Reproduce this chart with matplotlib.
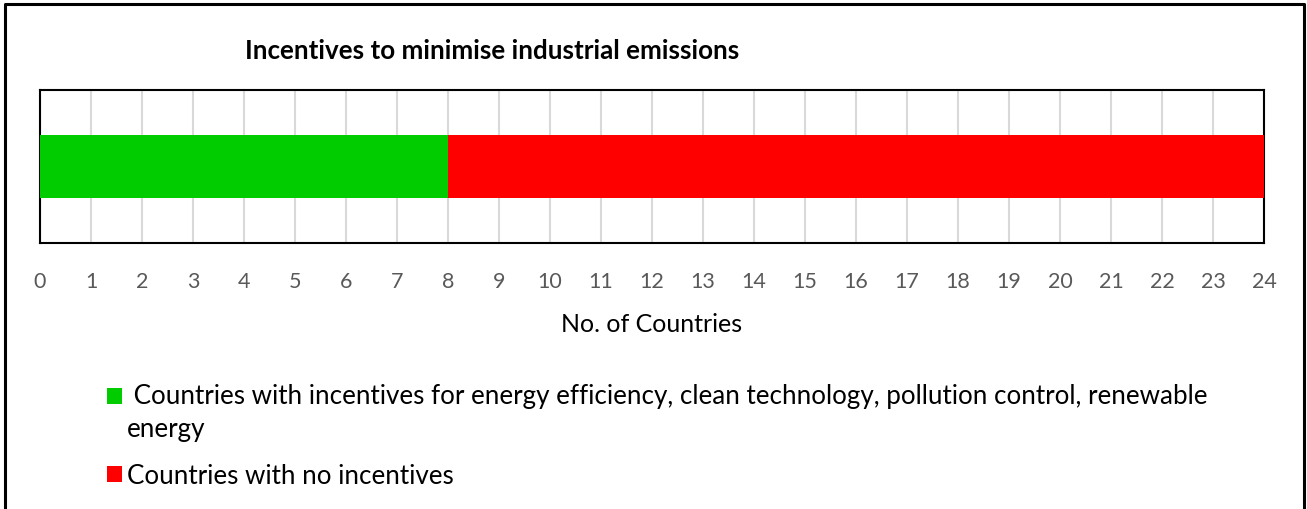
import matplotlib.pyplot as plt
from matplotlib.lines import Line2D
from matplotlib.patches import Rectangle
from matplotlib.legend_handler import HandlerPatch

# Data
categories = ['Industrial emissions']
with_incentives = [8]
no_incentives = [16]
legend_labels = [
    ' Countries with incentives for energy efficiency, clean technology, pollution control, renewable\nenergy',
    'Countries with no incentives',
]
colors = ['#00CC00', '#FF0000']
x_ticks = list(range(0, 25))

plt.rcParams['font.family'] = ['Lato', 'DejaVu Sans']

fig = plt.figure(figsize=(13.07, 5.10), dpi=100)
ax = fig.add_axes([40 / 1307, 1 - 244 / 510, 1224 / 1307, 153 / 510])

b1 = ax.barh(categories, with_incentives, height=0.41, color=colors[0], zorder=3)
b2 = ax.barh(categories, no_incentives, left=with_incentives, height=0.41, color=colors[1], zorder=3)

ax.set_xlim(0, 24)
ax.set_ylim(-0.5, 0.5)
ax.set_xticks(x_ticks)
ax.set_yticks([])
ax.tick_params(axis='x', length=0, pad=20, labelsize=15.5, labelcolor='#595959')
ax.grid(axis='x', color='#D9D9D9', linewidth=1.5, zorder=0)
for s in ax.spines.values():
    s.set_color('black')
    s.set_linewidth(1.5)
ax.set_xlabel('No. of Countries', fontsize=18, color='black', labelpad=15)

fig.text(492 / 1307, 1 - 51 / 510, 'Incentives to minimise industrial emissions',
         ha='center', va='center', fontsize=18.7, fontweight='bold')

leg_fs = 18.7
line_sp = 1.39


# put the square next to the first line of a wrapped label
def top_square(legend, orig_handle, xdescent, ydescent, width, height, fontsize):
    n = len(legend_labels[0].split('\n')) if orig_handle is b1.patches[0] else 1
    shift = 0.5 * (n - 1) * line_sp * 0.94 * fontsize
    return Rectangle((-xdescent, -ydescent + shift), width, height)


leg = fig.legend([b1.patches[0], b2.patches[0]], legend_labels, loc='upper left',
                 bbox_to_anchor=(84 / 1307, 1 - 361 / 510),
                 frameon=False, fontsize=leg_fs, handlelength=0.55, handleheight=0.55,
                 handletextpad=0.2, labelspacing=0.85,
                 handler_map={Rectangle: HandlerPatch(patch_func=top_square)})
for t in leg.get_texts():
    t.set_linespacing(line_sp)

# outer frame
fig.add_artist(Line2D([5 / 1307, 5 / 1307, 1304 / 1307, 1304 / 1307],
                      [0, 1 - 5 / 510, 1 - 5 / 510, 0], color='black', linewidth=2.2,
                      transform=fig.transFigure))

fig.savefig('out.png', dpi=100)
